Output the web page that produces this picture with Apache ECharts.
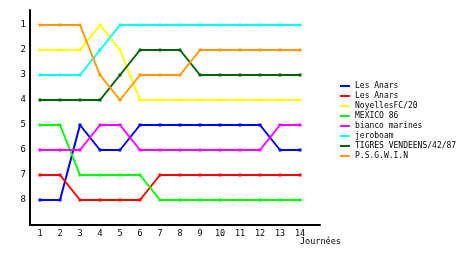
<!DOCTYPE html>
<html><head><meta charset="utf-8">
<script src="https://cdn.jsdelivr.net/npm/echarts@6/dist/echarts.min.js"></script>
<style>html,body{margin:0;padding:0;background:#fff}#c{width:460px;height:255px}</style>
</head><body><div id="c"></div>
<script>
const days = [1,2,3,4,5,6,7,8,9,10,11,12,13,14];
const rankTicks = [1,2,3,4,5,6,7,8];
const teamNames = ["Les Anars","Les Anars ","NoyellesFC/20","MEXICO 86","bianco marines","jeroboam","TIGRES VENDEENS/42/87","P.S.G.W.I.N"];
const teamColors = ["#0000ff","#ff0000","#ffff00","#00ff00","#ff00ff","#00ffff","#006600","#ff9900"];
const lesAnars1 = [8,8,5,6,6,5,5,5,5,5,5,5,6,6];
const lesAnars2 = [7,7,8,8,8,8,7,7,7,7,7,7,7,7];
const noyelles  = [2,2,2,1,2,4,4,4,4,4,4,4,4,4];
const mexico    = [5,5,7,7,7,7,8,8,8,8,8,8,8,8];
const bianco    = [6,6,6,5,5,6,6,6,6,6,6,6,5,5];
const jeroboam  = [3,3,3,2,1,1,1,1,1,1,1,1,1,1];
const tigres    = [4,4,4,4,3,2,2,2,3,3,3,3,3,3];
const psgwin    = [1,1,1,3,4,3,3,3,2,2,2,2,2,2];
const seriesValues = [lesAnars1,lesAnars2,noyelles,mexico,bianco,jeroboam,tigres,psgwin];

const font = "DejaVu Sans Mono";
const chart = echarts.init(document.getElementById('c'), null, {renderer:'canvas'});
chart.setOption({
  animation:false,
  backgroundColor:'#fff',
  grid:{left:30, top:10, width:290, height:215, containLabel:false},
  xAxis:{type:'value', min:0.5, max:15,
    axisLine:{show:true, lineStyle:{color:'#000', width:2}},
    axisTick:{show:false},
    splitLine:{show:false},
    axisLabel:{customValues:days, color:'#000', fontFamily:font, fontSize:8.5, margin:4},
    name:'Journées', nameLocation:'end', nameGap:-20, nameMoveOverlap:false,
    nameTextStyle:{color:'#000', fontFamily:font, fontSize:8.5, align:'left', verticalAlign:'top', padding:[12,0,0,0]}
  },
  yAxis:{type:'value', inverse:true, min:0.4, max:9,
    axisLine:{show:true, lineStyle:{color:'#000', width:2}},
    axisTick:{show:false},
    splitLine:{show:false},
    axisLabel:{customValues:rankTicks, color:'#000', fontFamily:font, fontSize:9, margin:4}
  },
  legend:{orient:'vertical', left:340, top:81, padding:0, icon:'rect', itemWidth:10, itemHeight:2, itemGap:0,
    textStyle:{color:'#000', fontFamily:font, fontSize:8, lineHeight:10},
    data:teamNames},
  series: teamNames.map((n,i)=>({
    name:n, type:'line', color:teamColors[i],
    data: days.map((d,j)=>[d, seriesValues[i][j]]),
    symbol:'rect', symbolSize:3,
    lineStyle:{width:2, color:teamColors[i]},
    itemStyle:{color:teamColors[i]}
  }))
});
</script></body></html>
